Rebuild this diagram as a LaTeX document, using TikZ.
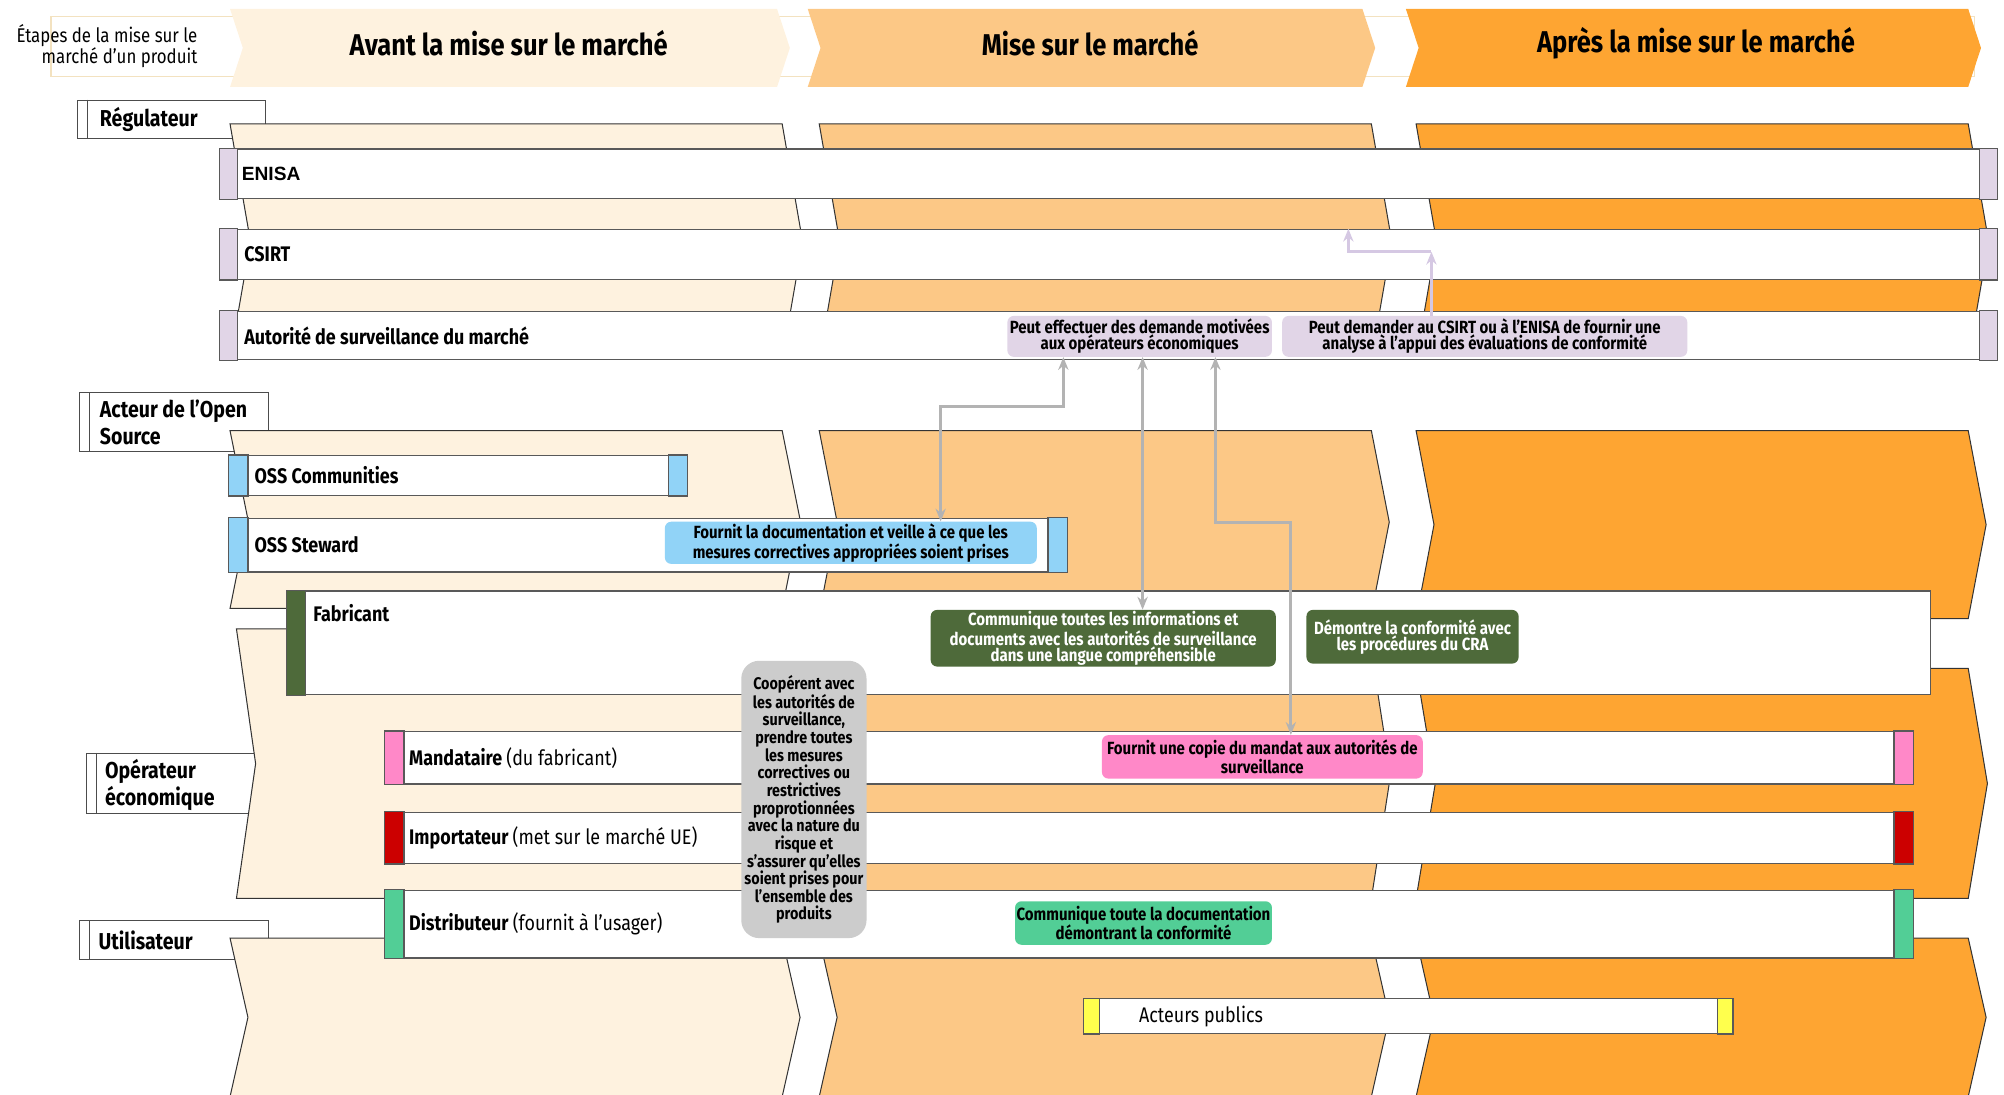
\documentclass[tikz,border=0pt]{standalone}
\usepackage{fontspec}
\setmainfont{Fira Sans}[FakeStretch=0.85]
\newfontfamily\arialfont{Liberation Sans}
\usepackage{tikz}
\usetikzlibrary{arrows.meta,positioning}
\definecolor{creme}{HTML}{FEF2DF}
\definecolor{peche}{HTML}{FCC886}
\definecolor{orangefort}{HTML}{FEA532}
\definecolor{lavande}{HTML}{E1D5E7}
\definecolor{bleu}{HTML}{91D3F7}
\definecolor{kaki}{HTML}{4E6A3A}
\definecolor{rose}{HTML}{FF88C8}
\definecolor{rouge}{HTML}{CC0000}
\definecolor{vert}{HTML}{52CE96}
\definecolor{jaune}{HTML}{FFFF4D}
\definecolor{gris}{HTML}{CCCCCC}
\definecolor{fleche}{HTML}{B3B3B3}
\definecolor{flechelav}{HTML}{D5C8E3}
\definecolor{filet}{HTML}{F3E2C0}
\tikzset{bandline/.style={
    draw=black!80,
    line width=0.8pt},
  bar/.style={
    draw=black!65,
    line width=1pt,
    fill=white,
    inner sep=0pt,
    anchor=north west},
  barcap/.style={
    draw=black!65,
    line width=1pt},
  roletext/.style={
    anchor=west,
    inner sep=0pt,
    font=\bfseries\fontsize{16.5}{18}\selectfont},
  groupbox/.style={
    draw=black!70,
    line width=0.8pt,
    fill=white,
    inner sep=0pt,
    anchor=north west},
  grouptext/.style={
    anchor=west,
    align=left,
    inner sep=0pt,
    font=\bfseries\fontsize{18}{21}\selectfont},
  headtext/.style={
    font=\bfseries\fontsize{23.5}{26}\selectfont},
  callout/.style={
    rounded corners=5pt,
    anchor=north west,
    inner sep=1pt,
    align=center,
    font=\bfseries\fontsize{13.8}{12.5}\selectfont},
  link/.style={
    draw=fleche,
    line width=2.2pt,
    {Stealth[length=10pt,width=8pt]}-{Stealth[length=10pt,width=8pt]}},
  lavlink/.style={
    draw=flechelav,
    line width=2.2pt,
    -{Stealth[length=10pt,width=8pt]}}}
% x1 x2 ytop ybottom offset colour
\newcommand{\phaseband}[7][bandline]{%
  \draw[#1, fill=#7] (#2,#4) -- (#3,#4) -- (#3+#6,{(#4+#5)/2}) -- (#3,#5)
    -- (#2,#5) -- (#2+#6,{(#4+#5)/2}) -- cycle;}

\begin{document}
\begin{tikzpicture}[x=1pt, y=-1pt]
\useasboundingbox (0,0) rectangle (1568,856);

% header
\draw[filet, line width=1pt] (40,13) rectangle (1545,60);
\phaseband[draw=none]{180}{608}{7}{68}{10}{creme}
\phaseband[draw=none]{632}{1066}{7}{68}{10}{peche}
\phaseband[draw=none]{1100}{1540}{7}{68}{10}{orangefort}
\node[align=right,
  anchor=east,
  font=\fontsize{15.5}{17}\selectfont] (etapes) at (158,36) {Étapes de la mise sur le\\marché d'un produit};
\node[headtext] (avant) at (398,34) {Avant la mise sur le marché};
\node[headtext] (mise) at (853,34) {Mise sur le marché};
\node[headtext] (apres) at (1327,34) {Après la mise sur le marché};

% acteurs
\node[groupbox, minimum width=147pt, minimum height=30pt] (regulateur) at (60,78) {};
\draw[black!70] ([xshift=8pt]regulateur.north west) -- ([xshift=8pt]regulateur.south west);
\node[grouptext, right=18pt of regulateur.west] (regulateurtxt) {Régulateur};

\node[groupbox, minimum width=148pt, minimum height=46pt] (opensource) at (62,307) {};
\draw[black!70] ([xshift=8pt]opensource.north west) -- ([xshift=8pt]opensource.south west);
\node[grouptext, right=16pt of opensource.west] (opensourcetxt) {Acteur de l'Open\\Source};

\node[groupbox, minimum width=133pt, minimum height=47pt] (operateur) at (67,589) {};
\draw[black!70] ([xshift=8pt]operateur.north west) -- ([xshift=8pt]operateur.south west);
\node[grouptext, right=15pt of operateur.west, yshift=-1.5pt] (operateurtxt) {Opérateur\\économique};

\node[groupbox, minimum width=148pt, minimum height=30pt] (utilisateur) at (62,720) {};
\draw[black!70] ([xshift=8pt]utilisateur.north west) -- ([xshift=8pt]utilisateur.south west);
\node[grouptext, right=15pt of utilisateur.west] (utilisateurtxt) {Utilisateur};

% bandes
\phaseband{180}{612}{97}{281}{16}{creme}
\phaseband{641}{1073}{97}{281}{16}{peche}
\phaseband{1108}{1540}{97}{281}{16}{orangefort}

\phaseband{180}{612}{337}{476}{14}{creme}
\phaseband{641}{1073}{337}{480}{14}{peche}
\phaseband{1108}{1540}{337}{484}{14}{orangefort}

\phaseband{185}{612}{492}{703}{15}{creme}
\phaseband{641}{1073}{510}{703}{15}{peche}
\phaseband{1108}{1540}{523}{703}{15}{orangefort}

\phaseband{180}{612}{734}{858}{14}{creme}
\phaseband{641}{1073}{734}{858}{14}{peche}
\phaseband{1108}{1540}{734}{858}{14}{orangefort}

% barres
\node[bar, minimum width=1390pt, minimum height=39pt] (enisa) at (172,116) {};
\draw[barcap, fill=lavande] (enisa.north west) rectangle ([xshift=14pt]enisa.south west);
\draw[barcap, fill=lavande] ([xshift=-14pt]enisa.north east) rectangle (enisa.south east);
\node[roletext, right=17pt of enisa.west, font=\arialfont\bfseries\fontsize{15}{16}\selectfont] (enisatxt) {ENISA};

\node[bar, minimum width=1390pt, minimum height=39pt] (csirt) at (172,179) {};
\draw[barcap, fill=lavande] (csirt.north west) rectangle ([xshift=14pt]csirt.south west);
\draw[barcap, fill=lavande] ([xshift=-14pt]csirt.north east) rectangle (csirt.south east);
\node[roletext, right=19pt of csirt.west] (csirttxt) {CSIRT};

\node[bar, minimum width=1390pt, minimum height=38pt] (autorite) at (172,243) {};
\draw[barcap, fill=lavande] (autorite.north west) rectangle ([xshift=14pt]autorite.south west);
\draw[barcap, fill=lavande] ([xshift=-14pt]autorite.north east) rectangle (autorite.south east);
\node[roletext, right=19pt of autorite.west] (autoritetxt) {Autorité de surveillance du marché};

\node[bar, minimum width=358pt, minimum height=31pt] (osscom) at (179,356) {};
\draw[barcap, fill=bleu] (osscom.north west) rectangle ([xshift=15pt]osscom.south west);
\draw[barcap, fill=bleu] ([xshift=-15pt]osscom.north east) rectangle (osscom.south east);
\node[roletext, right=20pt of osscom.west] (osscomtxt) {OSS Communities};

\node[bar, minimum width=655pt, minimum height=42pt] (ossstew) at (179,405) {};
\draw[barcap, fill=bleu] (ossstew.north west) rectangle ([xshift=15pt]ossstew.south west);
\draw[barcap, fill=bleu] ([xshift=-15pt]ossstew.north east) rectangle (ossstew.south east);
\node[roletext, right=20pt of ossstew.west] (ossstewtxt) {OSS Steward};

\node[bar, minimum width=1286pt, minimum height=81pt] (fabricant) at (224,462) {};
\draw[barcap, fill=kaki] (fabricant.north west) rectangle ([xshift=15pt]fabricant.south west);
\node[roletext] (fabricanttxt) at ([xshift=21pt,yshift=-18pt]fabricant.north west) {Fabricant};

\node[bar, minimum width=1195pt, minimum height=41pt] (mandataire) at (301,572) {};
\draw[barcap, fill=rose] (mandataire.north west) rectangle ([xshift=15pt]mandataire.south west);
\draw[barcap, fill=rose] ([xshift=-15pt]mandataire.north east) rectangle (mandataire.south east);
\node[roletext, right=19pt of mandataire.west] (mandatairetxt) {Mandataire \mdseries(du fabricant)};

\node[bar, minimum width=1195pt, minimum height=40pt] (importateur) at (301,635) {};
\draw[barcap, fill=rouge] (importateur.north west) rectangle ([xshift=15pt]importateur.south west);
\draw[barcap, fill=rouge] ([xshift=-15pt]importateur.north east) rectangle (importateur.south east);
\node[roletext, right=19pt of importateur.west] (importateurtxt) {Importateur \mdseries(met sur le marché UE)};

\node[bar, minimum width=1195pt, minimum height=53pt] (distributeur) at (301,696) {};
\draw[barcap, fill=vert] (distributeur.north west) rectangle ([xshift=15pt]distributeur.south west);
\draw[barcap, fill=vert] ([xshift=-15pt]distributeur.north east) rectangle (distributeur.south east);
\node[roletext, right=19pt of distributeur.west] (distributeurtxt) {Distributeur \mdseries(fournit à l'usager)};

\node[bar, minimum width=507pt, minimum height=27pt] (publics) at (848,781) {};
\draw[barcap, fill=jaune] (publics.north west) rectangle ([xshift=12pt]publics.south west);
\draw[barcap, fill=jaune] ([xshift=-12pt]publics.north east) rectangle (publics.south east);
\node[roletext, right=43pt of publics.west] (publicstxt) {\mdseries Acteurs publics};

% obligations
\node[callout, fill=lavande, minimum width=207pt, minimum height=32pt] (demande) at (788,247) {Peut effectuer des demande motivées\\aux opérateurs économiques};
\node[callout, fill=lavande, minimum width=317pt, minimum height=32pt] (analyse) at (1003,247) {Peut demander au CSIRT ou à l'ENISA de fournir une\\analyse à l'appui des évaluations de conformité};
\node[callout, fill=bleu, minimum width=291pt, minimum height=33pt] (fournit) at (520,408) {Fournit la documentation et veille à ce que les\\mesures correctives appropriées soient prises};
\node[callout, fill=kaki, text=white, minimum width=270pt, minimum height=42pt] (communique) at (728,477) {Communique toutes les informations et\\documents avec les autorités de surveillance\\dans une langue compréhensible};
\node[callout, fill=kaki, text=white, minimum width=166pt, minimum height=42pt] (demontre) at (1022,477) {Démontre la conformité avec\\les procédures du CRA};
\node[callout, fill=gris, rounded corners=14pt, anchor=center, minimum width=98pt, minimum height=217pt,
  font=\bfseries\fontsize{13.2}{13.8}\selectfont] (cooperent) at (629,625.5) {Coopérent avec\\les autorités de\\surveillance,\\prendre toutes\\les mesures\\correctives ou\\restrictives\\proprotionnées\\avec la nature du\\risque et\\s'assurer qu'elles\\soient prises pour\\l'ensemble des\\produits};
\node[callout, fill=rose, minimum width=251pt, minimum height=34pt,
  font=\bfseries\fontsize{13.8}{15}\selectfont] (copie) at (862,575) {Fournit une copie du mandat aux autorités de\\surveillance};
\node[callout, fill=vert, minimum width=201pt, minimum height=34pt] (doc) at (794,705) {Communique toute la documentation\\démontrant la conformité};

% liens
\coordinate (k1) at (736,318);
\coordinate (k2) at (832,0);
\coordinate (k3) at (894,0);
\coordinate (k4) at (951,409);
\coordinate (k5) at (1010,0);
\coordinate (k6) at (1120,197);
\coordinate (k7) at (1055,0);
\draw[link] (fournit.north -| k1) -- (k1) -| (demande.south -| k2);
\draw[link] (communique.north -| k3) -- (demande.south -| k3);
\draw[link] (demande.south -| k4) -- (k4) -| (copie.north -| k5);
\draw[lavlink] (analyse.north -| k6) -- (k6);
\draw[lavlink] (k6) -| (csirt.north -| k7);

\end{tikzpicture}
\end{document}
